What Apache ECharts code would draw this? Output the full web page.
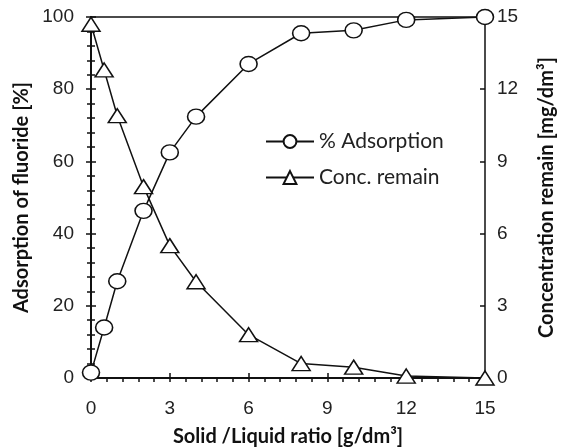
<!DOCTYPE html>
<html>
<head>
<meta charset="utf-8">
<script src="https://cdn.jsdelivr.net/npm/echarts@6/dist/echarts.min.js"></script>
<style>
  html, body { margin: 0; padding: 0; background: #fff; }
  #chart { width: 566px; height: 447px; }
</style>
</head>
<body>
<div id="chart"></div>
<script>
// Solid/liquid ratio (g/dm3)
var ratio = [0, 0.5, 1, 2, 3, 4, 6, 8, 10, 12, 15];
// Fluoride adsorbed (%)
var adsorption = [1.5, 14, 26.8, 46.3, 62.5, 72.4, 87, 95.5, 96.3, 99.2, 100];
// Fluoride left in solution (mg/dm3)
var remain = [14.7, 12.8, 10.9, 7.95, 5.5, 4.0, 1.8, 0.6, 0.45, 0.08, 0];

var xTicks = { min: 0, max: 15, interval: 3 };
var leftTicks = { min: 0, max: 100, interval: 20 };
var rightTicks = { min: 0, max: 15, interval: 3 };

var tickFont = { fontFamily: 'Liberation Sans', fontSize: 19, color: '#222' };
var titleFont = { fontFamily: 'Lato', fontSize: 20, fontWeight: 'bold', color: '#111' };
var axisLine = { show: true, lineStyle: { color: '#111', width: 2 } };

function pairs(ys) { return ratio.map(function (x, i) { return [x, ys[i]]; }); }

var chart = echarts.init(document.getElementById('chart'), null, { renderer: 'canvas' });

chart.setOption({
  animation: false,
  backgroundColor: '#fff',
  grid: {
    left: 91, right: 81, top: 17, bottom: 69,
    outerBoundsMode: 'none', containLabel: false,
    show: true, borderColor: '#111', borderWidth: 1.5, backgroundColor: 'transparent'
  },
  legend: {
    orient: 'vertical', left: 265, top: 131, padding: 0,
    itemWidth: 48, itemHeight: 16, itemGap: 15,
    textStyle: { fontFamily: 'Lato', fontSize: 21, color: '#222' },
    data: ['% Adsorption', 'Conc. remain']
  },
  xAxis: [
    {
      type: 'value', position: 'bottom', min: xTicks.min, max: xTicks.max, interval: xTicks.interval,
      axisLine: axisLine,
      axisTick: { show: true, inside: false, length: 4, lineStyle: { color: '#111', width: 1.5 } },
      minorTick: { show: true, splitNumber: 5, length: 4, lineStyle: { color: '#111', width: 1.5 } },
      splitLine: { show: false },
      axisLabel: Object.assign({ margin: 21 }, tickFont),
      name: 'Solid /Liquid ratio [g/dm³]', nameLocation: 'middle', nameGap: 49,
      nameTextStyle: titleFont
    },
    {
      type: 'value', position: 'bottom', min: xTicks.min, max: xTicks.max, interval: xTicks.interval,
      axisLine: { show: false },
      axisTick: { show: true, inside: true, length: 5, lineStyle: { color: '#111', width: 1.5 } },
      axisLabel: { show: false }, splitLine: { show: false }
    }
  ],
  yAxis: [
    {
      type: 'value', position: 'left', min: leftTicks.min, max: leftTicks.max, interval: leftTicks.interval,
      axisLine: axisLine,
      axisTick: { show: true, inside: false, length: 5, lineStyle: { color: '#111', width: 1.5 } },
      minorTick: { show: true, splitNumber: 5, length: 4, lineStyle: { color: '#111', width: 1.5 } },
      splitLine: { show: false },
      axisLabel: Object.assign({ margin: 17 }, tickFont),
      name: 'Adsorption of fluoride [%]', nameLocation: 'middle', nameGap: 57,
      nameTextStyle: titleFont
    },
    {
      type: 'value', position: 'right', min: rightTicks.min, max: rightTicks.max, interval: rightTicks.interval,
      axisLine: axisLine,
      axisTick: { show: true, inside: false, length: 4, lineStyle: { color: '#111', width: 1.5 } },
      minorTick: { show: true, splitNumber: 5, length: 4, lineStyle: { color: '#111', width: 1.5 } },
      splitLine: { show: false },
      axisLabel: Object.assign({ margin: 12 }, tickFont),
      name: 'Concentration remain [mg/dm³]', nameLocation: 'middle', nameGap: 52,
      nameTextStyle: titleFont
    },
    {
      type: 'value', position: 'left', min: leftTicks.min, max: leftTicks.max, interval: leftTicks.interval,
      axisLine: { show: false },
      axisTick: { show: true, inside: true, length: 5, lineStyle: { color: '#111', width: 1.5 } },
      axisLabel: { show: false }, splitLine: { show: false }
    },
    {
      type: 'value', position: 'right', min: rightTicks.min, max: rightTicks.max, interval: rightTicks.interval,
      axisLine: { show: false },
      axisTick: { show: true, inside: true, length: 5, lineStyle: { color: '#111', width: 1.5 } },
      axisLabel: { show: false }, splitLine: { show: false }
    }
  ],
  series: [
    {
      name: '% Adsorption', type: 'line', xAxisIndex: 0, yAxisIndex: 0,
      data: pairs(adsorption),
      symbol: 'circle', symbolSize: [17, 15],
      lineStyle: { color: '#111', width: 1.5 },
      itemStyle: { color: '#fff', borderColor: '#111', borderWidth: 1.5 },
      z: 3
    },
    {
      name: 'Conc. remain', type: 'line', xAxisIndex: 0, yAxisIndex: 1,
      data: pairs(remain),
      symbol: 'triangle', symbolSize: [18, 14],
      lineStyle: { color: '#111', width: 1.5 },
      itemStyle: { color: '#fff', borderColor: '#111', borderWidth: 1.5 },
      z: 4
    }
  ]
});
</script>
</body>
</html>
